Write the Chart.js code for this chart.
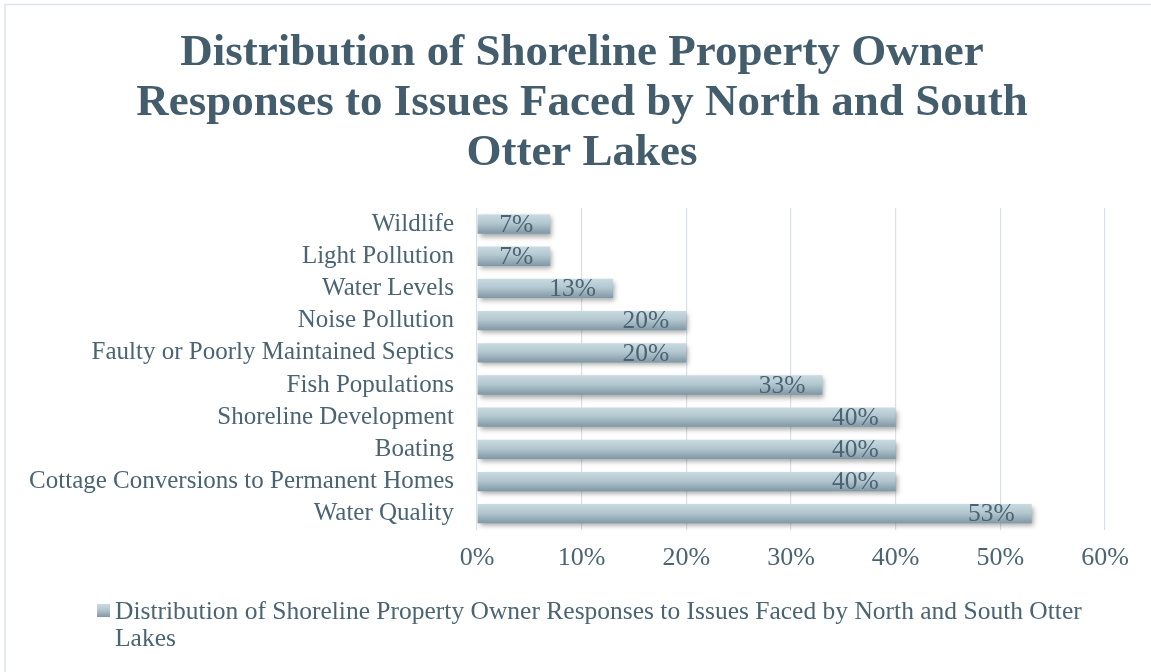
<!DOCTYPE html>
<html>
<head>
<meta charset="utf-8">
<script src="https://cdn.jsdelivr.net/npm/chart.js@4/dist/chart.umd.min.js"></script>
<style>
  html, body { margin: 0; padding: 0; background: #fff; }
  #wrap { width: 1151px; height: 672px; }
</style>
</head>
<body>
<div id="wrap"><canvas id="chart" width="1151" height="672"></canvas></div>
<script>
const titleLines = [
  "Distribution of Shoreline Property Owner",
  "Responses to Issues Faced by North and South",
  "Otter Lakes"
];
const seriesName = "Distribution of Shoreline Property Owner Responses to Issues Faced by North and South Otter Lakes";
const categories = [
  "Wildlife",
  "Light Pollution",
  "Water Levels",
  "Noise Pollution",
  "Faulty or Poorly Maintained Septics",
  "Fish Populations",
  "Shoreline Development",
  "Boating",
  "Cottage Conversions to Permanent Homes",
  "Water Quality"
];
const values = [7, 7, 13, 20, 20, 33, 40, 40, 40, 53];
const xTicks = [0, 10, 20, 30, 40, 50, 60];

const FONT = "'Liberation Serif', 'Times New Roman', serif";
const TEXT = "#4b6473";
const TITLE = "#435d6c";

function barGradient(ctx, top, bottom) {
  const g = ctx.createLinearGradient(0, top, 0, bottom);
  g.addColorStop(0, "#c9dae1");
  g.addColorStop(0.45, "#b3c7d0");
  g.addColorStop(1, "#8098a5");
  return g;
}

const extras = {
  id: "extras",
  beforeDraw(chart) {
    const c = chart.ctx;
    c.save();
    c.strokeStyle = "#dde4e9";
    c.lineWidth = 1.5;
    c.beginPath();
    c.moveTo(5, 672); c.lineTo(5, 4.5); c.lineTo(1151, 4.5);
    c.stroke();
    // title, centred a little right of the canvas middle as in the original
    c.font = "bold 45px " + FONT;
    c.fillStyle = TITLE;
    c.textAlign = "center";
    c.textBaseline = "middle";
    titleLines.forEach((l, i) => c.fillText(l, 582, 53 + i * 50));
    c.restore();
  },
  beforeDatasetsDraw(chart) {
    const c = chart.ctx;
    c.save();
    c.shadowColor = "rgba(0,0,0,0.35)";
    c.shadowBlur = 5;
    c.shadowOffsetX = 2;
    c.shadowOffsetY = 3;
  },
  afterDatasetsDraw(chart) {
    const c = chart.ctx;
    c.restore();
    c.save();
    c.font = "25.5px " + FONT;
    c.fillStyle = TEXT;
    c.textAlign = "right";
    c.textBaseline = "middle";
    chart.getDatasetMeta(0).data.forEach((el, i) => {
      c.fillText(values[i] + "%", el.x - 17, el.y + 1);
    });
    c.restore();
  },
  afterDraw(chart) {
    const c = chart.ctx;
    c.save();
    c.font = "25.5px " + FONT;
    // wrap legend text
    const words = seriesName.split(" ");
    const lines = [];
    let cur = "";
    for (const w of words) {
      const t = cur ? cur + " " + w : w;
      if (c.measureText(t).width > 1000 && cur) { lines.push(cur); cur = w; }
      else cur = t;
    }
    if (cur) lines.push(cur);
    c.fillStyle = barGradient(c, 604, 617);
    c.fillRect(97, 604, 13, 13);
    c.fillStyle = TEXT;
    c.textAlign = "left";
    c.textBaseline = "middle";
    lines.forEach((l, i) => c.fillText(l, 115, 612 + i * 27));
    c.restore();
  }
};

new Chart(document.getElementById("chart"), {
  type: "bar",
  data: {
    labels: categories,
    datasets: [{
      label: seriesName,
      data: values,
      barPercentage: 0.6,
      categoryPercentage: 1,
      backgroundColor: (ctx) => {
        const chart = ctx.chart;
        const y = chart.scales.y;
        if (!y || ctx.dataIndex === undefined) return "#b3c7d0";
        const cy = y.getPixelForValue(ctx.dataIndex);
        const half = (y.height / categories.length) * 0.3;
        if (!isFinite(cy) || !isFinite(half) || half <= 0) return "#b3c7d0";
        return barGradient(chart.ctx, cy - half, cy + half);
      },
      borderWidth: 0
    }]
  },
  options: {
    indexAxis: "y",
    responsive: false,
    animation: false,
    layout: { padding: { left: 0, right: 46, top: 208, bottom: 85 } },
    plugins: {
      legend: { display: false },
      tooltip: { enabled: false },
      title: { display: false }
    },
    scales: {
      x: {
        min: 0, max: 60,
        afterBuildTicks: (s) => { s.ticks = xTicks.map(v => ({ value: v })); },
        ticks: {
          callback: (v) => v + "%",
          color: TEXT,
          font: { family: FONT, size: 26 },
          padding: 13,
          maxRotation: 0
        },
        grid: { color: "#d9e1e7", lineWidth: 1.2, drawTicks: false },
        border: { display: false }
      },
      y: {
        afterFit: (s) => { s.width = 477; },
        ticks: {
          color: TEXT,
          font: { family: FONT, size: 25 },
          padding: 23,
          autoSkip: false
        },
        grid: { display: false, drawTicks: false },
        border: { display: false }
      }
    }
  },
  plugins: [extras]
});
</script>
</body>
</html>
